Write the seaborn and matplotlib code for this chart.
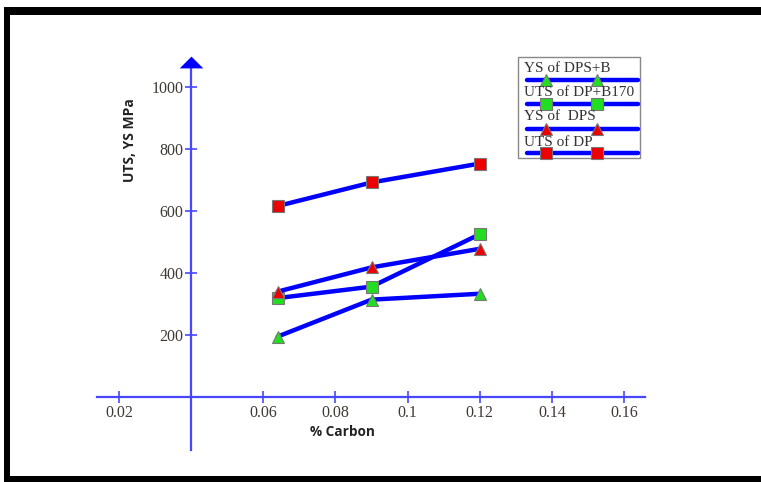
import matplotlib
matplotlib.use("Agg")
import matplotlib.pyplot as plt
import seaborn as sns
import pandas as pd
from matplotlib.patches import Rectangle
from matplotlib.lines import Line2D

carbon = [0.064, 0.09, 0.12]
uts_dp = [616, 692, 753]
ys_dps = [340, 418, 478]
uts_dpb170 = [319, 356, 525]
ys_dpsb = [195, 314, 333]

x_ticks = [0.02, 0.06, 0.08, 0.1, 0.12, 0.14, 0.16]
x_tick_labels = ["0.02", "0.06", "0.08", "0.1", "0.12", "0.14", "0.16"]
y_ticks = [200, 400, 600, 800, 1000]

legend_labels = ["YS of DPS+B", "UTS of DP+B170", "YS of  DPS", "UTS of DP"]

sns.set_style("white")
W, H = 761, 482
fig = plt.figure(figsize=(W / 100, H / 100), dpi=100)
ax = fig.add_axes([97 / W, 1 - 450 / H, 548 / W, 390 / H])
ax.set_xlim(0.0139, 0.1658)
ax.set_ylim(-171, 1087)

axis_blue = "#4747ff"
line_blue = "#0000ff"
tick_color = "#3d3a36"

series = [
    (ys_dpsb, "^", "#22dd22"),
    (uts_dpb170, "s", "#22dd22"),
    (ys_dps, "^", "#ee0000"),
    (uts_dp, "s", "#ee0000"),
]
for vals, mk, fc in series:
    df = pd.DataFrame({"c": carbon, "v": vals})
    sns.lineplot(data=df, x="c", y="v", ax=ax, color=line_blue, linewidth=3.2,
                 marker=mk, markersize=8.5, markerfacecolor=fc,
                 markeredgecolor="#777777", markeredgewidth=0.8, zorder=3)

for s in ["top", "right"]:
    ax.spines[s].set_visible(False)
ax.spines["left"].set_position(("data", 0.04))
ax.spines["bottom"].set_position(("data", 0))
for s in ["left", "bottom"]:
    ax.spines[s].set_color(axis_blue)
    ax.spines[s].set_linewidth(1.6)
ax.spines["left"].set_bounds(-171, 1070)

ax.set_xticks(x_ticks)
ax.set_xticklabels(x_tick_labels)
ax.set_yticks(y_ticks)
ax.set_yticklabels([str(v) for v in y_ticks])
ax.tick_params(axis="both", direction="inout", length=9, width=1.2, color=axis_blue,
               labelcolor=tick_color, bottom=True, left=True)
ax.tick_params(axis="y", pad=1)
ax.tick_params(axis="x", pad=1)
for lab in ax.get_xticklabels() + ax.get_yticklabels():
    lab.set_fontfamily("Liberation Serif")
    lab.set_fontsize(11.5)

ax.set_xlabel("")
ax.set_ylabel("")
fig.text(342 / W, 1 - 432 / H, "% Carbon", ha="center", va="center",
         fontsize=9.8, fontweight="bold", family="Open Sans", color="#222222")
fig.text(130 / W, 1 - 140 / H, "UTS, YS MPa", ha="center", va="center", rotation=90,
         fontsize=10, fontweight="bold", family="Open Sans", color="#222222")

# arrow head on y axis
arrow_verts = [(-1, -0.5), (1, -0.5), (0, 0.5), (-1, -0.5)]
ax.plot([0.04], [1080], marker=arrow_verts, markersize=17, color=line_blue,
        markeredgewidth=0, clip_on=False, zorder=4)

# legend drawn manually
fig.patches.append(Rectangle((518 / W, 1 - 158 / H), 122 / W, 101 / H,
                             transform=fig.transFigure, facecolor="white",
                             edgecolor="#888888", linewidth=1.0))
text_y = [68, 93, 117, 142]
line_y = [80, 104, 129, 153]
for i, (lab, (vals, mk, fc)) in enumerate(zip(legend_labels, series)):
    fig.text(524 / W, 1 - text_y[i] / H, lab, ha="left", va="center",
             fontsize=11, family="Liberation Serif", color="#333333")
    fig.add_artist(Line2D([527 / W, 638 / W], [1 - line_y[i] / H] * 2,
                          transform=fig.transFigure, color=line_blue, linewidth=3.2))
    fig.add_artist(Line2D([546 / W, 597 / W], [1 - line_y[i] / H] * 2,
                          transform=fig.transFigure, linestyle="none", marker=mk,
                          markersize=8, markerfacecolor=fc, markeredgecolor="#777777",
                          markeredgewidth=0.8))

# black frame
fig.patches.append(Rectangle((4 / W, 1 - 15 / H), 757 / W, 8 / H, transform=fig.transFigure,
                             facecolor="black", edgecolor="none"))
fig.patches.append(Rectangle((4 / W, 0), 6 / W, 1 - 7 / H, transform=fig.transFigure,
                             facecolor="black", edgecolor="none"))
fig.patches.append(Rectangle((4 / W, 0), 757 / W, 6 / H, transform=fig.transFigure,
                             facecolor="black", edgecolor="none"))

fig.savefig("out.png", dpi=100)
